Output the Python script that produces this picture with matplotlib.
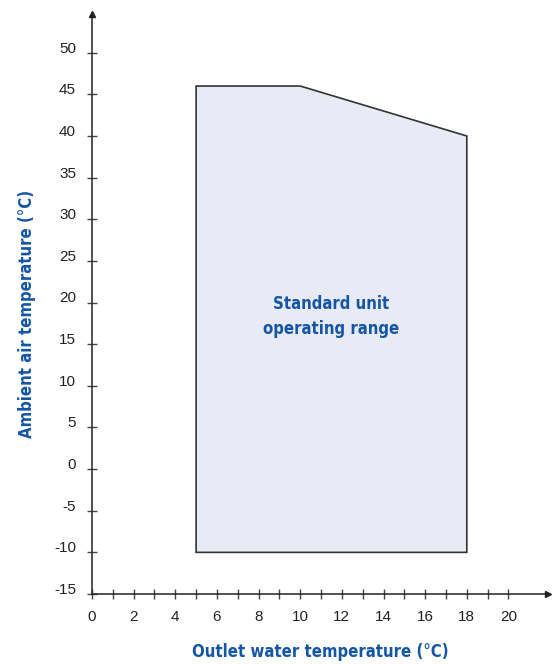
import matplotlib.pyplot as plt
from matplotlib.transforms import ScaledTranslation

# Operating envelope (outlet water temp, ambient air temp)
env_x = [5, 5, 10, 18, 18]
env_y = [-10, 46, 46, 40, -10]

x_ticks = list(range(0, 21))
y_ticks = list(range(-15, 51, 5))

blue = '#1456a4'
plt.rcParams['font.family'] = ['Liberation Sans', 'DejaVu Sans']

fig = plt.figure(figsize=(5.52, 6.64), dpi=100)
ax = fig.add_axes([0.16667, 0.10542, 0.8261, 0.8735])

ax.fill(env_x, env_y, facecolor='#e8eaf5', edgecolor='#333333', lw=1.2, zorder=2)

ax.set_xlim(0, 21.9)
ax.set_ylim(-15, 54.65)

for s in ['top', 'right']:
    ax.spines[s].set_visible(False)
for s in ['left', 'bottom']:
    ax.spines[s].set_linewidth(1.1)
    ax.spines[s].set_color('#222222')

# arrow heads
ax.plot(1, 0, '>', color='#222222', ms=5, transform=ax.transAxes, clip_on=False)
ax.plot(0, 1, '^', color='#222222', ms=5, transform=ax.transAxes, clip_on=False)

ax.set_xticks(x_ticks)
ax.set_xticklabels([str(v) if v % 2 == 0 else '' for v in x_ticks])
ax.set_yticks(y_ticks)
ax.set_yticklabels([str(v) for v in y_ticks])
ax.tick_params(direction='inout', length=7, width=1, color='#444444',
               labelsize=11, labelcolor='#222222', pad=8)

off = ScaledTranslation(0, 4 / 72, fig.dpi_scale_trans)
for lab in ax.get_yticklabels():
    lab.set_transform(lab.get_transform() + off)

lab_font = dict(family='DejaVu Sans', fontstretch='condensed',
                fontweight='bold', color=blue, fontsize=12)
ax.set_xlabel('Outlet water temperature (°C)', labelpad=14, **lab_font)
ax.set_ylabel('Ambient air temperature (°C)', **lab_font)
ax.yaxis.set_label_coords(-0.123, 0.483)

ax.text(11.5, 18.3, 'Standard unit\noperating range', ha='center', va='center',
        linespacing=1.5, family='DejaVu Sans', fontstretch='condensed',
        fontweight='bold', color=blue, fontsize=12)

fig.savefig('out.png', dpi=100)
